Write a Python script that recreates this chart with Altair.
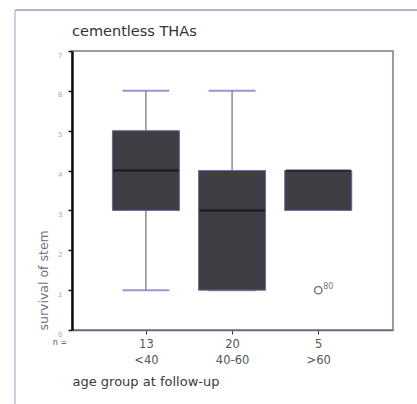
import altair as alt
import pandas as pd

# data
groups = [1, 2, 3]
n_counts = ["13", "20", "5"]
age_labels = ["<40", "40-60", ">60"]
whisk_lo = [1, 1, 3]
q1 = [3, 1, 3]
median = [4, 3, 4]
q3 = [5, 4, 4]
whisk_hi = [6, 6, 4]
has_whisk = [True, True, False]
outlier_group = [3]
outlier_value = [1]
outlier_label = ["80"]
y_ticks = [0, 1, 2, 3, 4, 5, 6, 7]

df = pd.DataFrame({"g": groups, "lo": whisk_lo, "q1": q1, "med": median,
                   "q3": q3, "hi": whisk_hi, "w": has_whisk})
dw = df[df["w"]]
dout = pd.DataFrame({"g": outlier_group, "v": outlier_value, "lab": outlier_label})

label_expr = " : ".join(
    f"datum.value == {g} ? ['{n}', '{a}']" for g, n, a in zip(groups, n_counts, age_labels)
) + " : ''"

FONT = "DejaVu Sans"
xscale = alt.Scale(domain=[0.2, 3.81], nice=False, zero=False)
yscale = alt.Scale(domain=[0, 7], nice=False)

xaxis = alt.Axis(values=groups, labelExpr=label_expr, grid=False,
                 title="age group at follow-up", titleAnchor="start", titleAlign="left",
                 titleX=0, titleY=51, titleBaseline="middle", titleFont=FONT,
                 titleFontSize=13, titleFontWeight="normal", titleColor="#3a3a3a",
                 labelFont=FONT, labelFontSize=11.5, labelColor="#555555",
                 labelLineHeight=16, labelPadding=4, tickSize=4, tickColor="#333333",
                 domainColor="#6a6a80", domainWidth=1.5)
yaxis = alt.Axis(values=y_ticks, grid=False, title="survival of stem",
                 titleAngle=270, titleX=-29, titleY=279, titleAlign="left",
                 titleBaseline="middle", titleFont=FONT, titleFontSize=12.5,
                 titleFontWeight="normal", titleColor="#707080",
                 labelFont=FONT, labelFontSize=7, labelColor="#aaaaaa", labelPadding=6,
                 labelOverlap=False, labelFlush=False, labelBaseline="top",
                 tickSize=4, tickColor="#111111", tickWidth=1.5,
                 domainColor="#111111", domainWidth=2.5)


def X(field):
    return alt.X(field, scale=xscale, axis=xaxis)


def Y(field):
    return alt.Y(field, scale=yscale, axis=yaxis)


base = alt.Chart(df)

upper = alt.Chart(dw).mark_rule(color="#555555", strokeWidth=1).encode(
    x=X("g:Q"), y=Y("q3:Q"), y2="hi:Q")
lower = alt.Chart(dw).mark_rule(color="#555555", strokeWidth=1).encode(
    x=X("g:Q"), y=Y("lo:Q"), y2="q1:Q")
cap_hi = alt.Chart(dw).mark_tick(orient="horizontal", size=47, thickness=2,
                                 color="#6b6bc0").encode(x=X("g:Q"), y=Y("hi:Q"))
cap_lo = alt.Chart(dw).mark_tick(orient="horizontal", size=47, thickness=2,
                                 color="#6b6bc0").encode(x=X("g:Q"), y=Y("lo:Q"))
box = base.mark_bar(size=67, color="#3e3e44", stroke="#6a6a9a", strokeWidth=1).encode(
    x=X("g:Q"), y=Y("q1:Q"), y2="q3:Q")
med = base.mark_tick(orient="horizontal", size=65, thickness=2, color="#0a0a0a").encode(
    x=X("g:Q"), y=Y("med:Q"))
out_pt = alt.Chart(dout).mark_point(shape="circle", size=55, filled=False,
                                    color="#444444", strokeWidth=1.5).encode(
    x=X("g:Q"), y=Y("v:Q"))
out_tx = alt.Chart(dout).mark_text(font=FONT, fontSize=8, color="#777777",
                                   align="left", dx=5, dy=-3).encode(
    x=X("g:Q"), y=Y("v:Q"), text="lab:N")

n_text = alt.Chart(pd.DataFrame({"t": ["n ="]})).mark_text(
    font=FONT, fontSize=8, color="#555555", align="center", baseline="middle").encode(
    x=alt.value(-12), y=alt.value(292), text="t:N")
title_text = alt.Chart(pd.DataFrame({"t": ["cementless THAs"]})).mark_text(
    font=FONT, fontSize=14.5, color="#333333", align="left", baseline="middle").encode(
    x=alt.value(0), y=alt.value(-19), text="t:N")
frame_top = alt.Chart(pd.DataFrame({"a": [0]})).mark_rule(
    color="#9a9ab4", strokeWidth=1.5).encode(
    x=alt.value(-57), x2=alt.value(360), y=alt.value(-41))
frame_left = alt.Chart(pd.DataFrame({"a": [0]})).mark_rule(
    color="#b0b0c0", strokeWidth=1.2).encode(
    x=alt.value(-57), y=alt.value(-41), y2=alt.value(360))

chart = alt.layer(upper, lower, cap_hi, cap_lo, box, med, out_pt, out_tx,
                  n_text, title_text, frame_top, frame_left).properties(
    width=321, height=279,
    padding={"left": 72, "top": 51, "right": 24, "bottom": 74},
    autosize=alt.AutoSizeParams(type="none"),
    background="white",
).configure_view(stroke="#7a7a8c", strokeWidth=1.5)

chart.save("out.html", embed_options={"renderer": "svg", "actions": False})
